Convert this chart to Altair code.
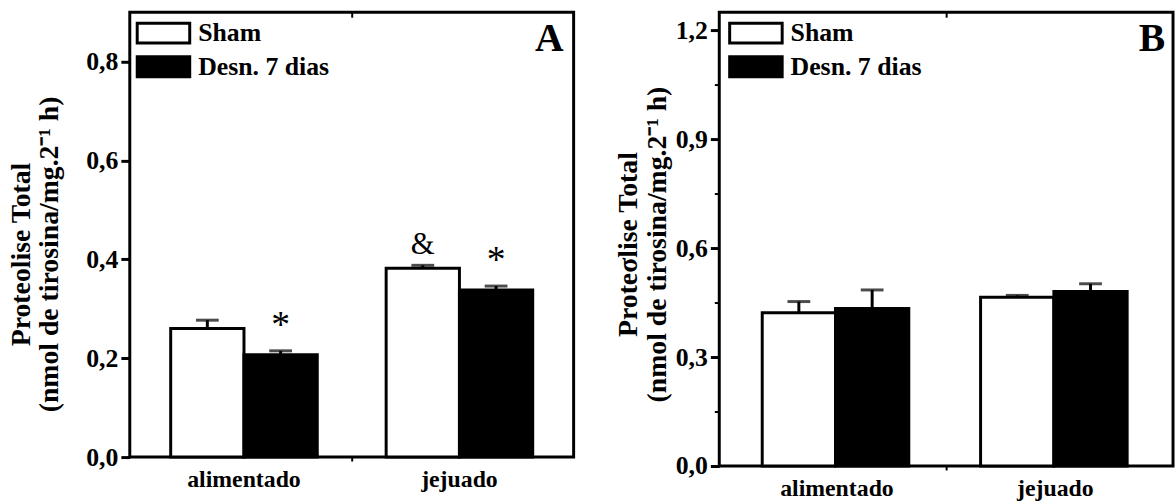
import altair as alt
import pandas as pd

# Categories and series
grupos = ["alimentado", "jejuado"]
series = ["Sham", "Desn. 7 dias"]

# Panel A: means, standard errors and significance marks
a_sham_media = [0.260, 0.382]
a_sham_epm = [0.017, 0.006]
a_desn_media = [0.207, 0.338]
a_desn_epm = [0.008, 0.008]
a_sham_sinal = ["", "&"]
a_desn_sinal = ["*", "*"]

# Panel B: means and standard errors
b_sham_media = [0.422, 0.465]
b_sham_epm = [0.031, 0.005]
b_desn_media = [0.434, 0.481]
b_desn_epm = [0.051, 0.021]
b_sham_sinal = ["", ""]
b_desn_sinal = ["", ""]

# Axis ticks
a_ticks = [0.0, 0.2, 0.4, 0.6, 0.8]
b_ticks = [0.0, 0.3, 0.6, 0.9, 1.2]
b_ticks_menores = [0.15, 0.45, 0.75, 1.05]

FONTE = "Liberation Serif"
UNIDADE = "(nmol de tirosina/mg.2\u207b\u00b9 h)"


def tabela(sham_m, sham_e, desn_m, desn_e, sham_s, desn_s):
    linhas = []
    for i, g in enumerate(grupos):
        linhas.append({"grupo": g, "serie": series[0], "media": sham_m[i],
                       "epm": sham_e[i], "sinal": sham_s[i]})
        linhas.append({"grupo": g, "serie": series[1], "media": desn_m[i],
                       "epm": desn_e[i], "sinal": desn_s[i]})
    df = pd.DataFrame(linhas)
    df["topo"] = df["media"] + df["epm"]
    return df


def painel(df, letra, titulo1, dominio, ticks, menores, largura, altura,
           pad_x, pad_off, title_y, title_pad, letra_margem, leg_x):
    base = alt.Chart(df)
    rotulo = "replace(format(datum.value, '.1f'), '.', ',')"

    def x_enc(axis):
        return alt.X("grupo:N", sort=grupos, axis=axis,
                     scale=alt.Scale(paddingInner=0, paddingOuter=pad_x))

    xo = alt.XOffset("serie:N", sort=series,
                     scale=alt.Scale(paddingInner=0, paddingOuter=pad_off))
    y_scale = alt.Scale(domain=dominio, nice=False, zero=True)

    eixo_y = alt.Axis(
        values=ticks, labelExpr=rotulo, title=[titulo1, UNIDADE],
        domain=False, grid=False, tickSize=9, tickWidth=3, tickColor="black",
        labelFont=FONTE, labelFontSize=26, labelFontWeight="bold",
        labelColor="black", labelPadding=3,
        titleFont=FONTE, titleFontSize=28, titleFontWeight="bold",
        titleColor="black", titleLineHeight=29, titlePadding=title_pad,
        titleY=title_y,
    )
    eixo_x = alt.Axis(
        title=None, ticks=False, domain=False, labelAngle=0,
        labelFont=FONTE, labelFontSize=24, labelFontWeight="bold",
        labelColor="black", labelPadding=11,
    )
    eixo_x_meio = alt.Axis(
        title=None, values=["jejuado"], bandPosition=0, labels=False,
        domain=False, ticks=True, tickSize=4, tickWidth=2, tickColor="black",
        orient="bottom",
    )
    eixo_x_topo = alt.Axis(
        title=None, values=["jejuado"], bandPosition=0, labels=False,
        domain=False, ticks=True, tickSize=5, tickWidth=2, tickColor="black",
        orient="top", offset=-5,
    )
    if menores:
        eixo_y_menor = alt.Axis(
            values=menores, labels=False, domain=False, grid=False,
            tickSize=5, tickWidth=2, tickColor="black", title=None,
            orient="left",
        )
    else:
        eixo_y_menor = None

    # Wide rectangular swatches: the path spans 5.3 x 2 units of a
    # sqrt(symbolSize)/2 grid, i.e. about 53 x 20 px
    legenda = alt.Legend(
        orient="none", legendX=leg_x, legendY=8, title=None,
        symbolType="M-2.65,-1H2.65V1H-2.65Z", symbolSize=400,
        symbolStrokeWidth=3, symbolStrokeColor="black",
        labelFont=FONTE, labelFontSize=26, labelFontWeight="bold",
        labelColor="black", labelOffset=22, labelLimit=400,
        rowPadding=2, padding=0,
    )

    barras = base.mark_bar(stroke="black", strokeWidth=3).encode(
        x=x_enc(eixo_x),
        xOffset=xo,
        y=alt.Y("media:Q", scale=y_scale, axis=eixo_y),
        fill=alt.Fill("serie:N", sort=series, legend=legenda,
                      scale=alt.Scale(domain=series, range=["white", "black"])),
    )
    erro = base.mark_rule(color="black", strokeWidth=3).encode(
        x=x_enc(eixo_x_meio),
        xOffset=xo,
        y=alt.Y("media:Q", scale=y_scale, axis=None),
        y2="topo:Q",
    )
    cap = base.mark_tick(color="black", size=23, thickness=3).encode(
        x=x_enc(eixo_x_topo),
        xOffset=xo,
        y=alt.Y("topo:Q", scale=y_scale, axis=eixo_y_menor),
    )
    # Significance marks above the error bars
    asteriscos = base.transform_filter("datum.sinal == '*'").mark_text(
        font=FONTE, fontSize=38, color="black", baseline="alphabetic",
        align="center", dy=-14,
    ).encode(
        x=x_enc(None),
        xOffset=xo,
        y=alt.Y("topo:Q", scale=y_scale, axis=None),
        text="sinal:N",
    )
    outros = base.transform_filter("datum.sinal == '&'").mark_text(
        font=FONTE, fontSize=31, color="black", baseline="alphabetic",
        align="center", dy=-11,
    ).encode(
        x=x_enc(None),
        xOffset=xo,
        y=alt.Y("topo:Q", scale=y_scale, axis=None),
        text="sinal:N",
    )
    # Panel letter in the upper right corner of the plot area
    rotulo_painel = alt.Chart(pd.DataFrame({"letra": [letra]})).mark_text(
        font=FONTE, fontSize=40, fontWeight="bold", color="black",
        align="right", baseline="alphabetic",
    ).encode(
        x=alt.value(largura - letra_margem),
        y=alt.value(39),
        text="letra:N",
    )
    return alt.layer(
        barras, erro, cap, asteriscos, outros, rotulo_painel
    ).resolve_axis(
        x="independent", y="independent"
    ).properties(width=largura, height=altura)


dados_a = tabela(a_sham_media, a_sham_epm, a_desn_media, a_desn_epm,
                 a_sham_sinal, a_desn_sinal)
dados_b = tabela(b_sham_media, b_sham_epm, b_desn_media, b_desn_epm,
                 b_sham_sinal, b_desn_sinal)

painel_a = painel(dados_a, "A", "Proteolise Total", [0, 0.9], a_ticks, None,
                  448, 449, 0.03, 0.47, 244, 22, 10, 21)
painel_b = painel(dados_b, "B", "Prote\u03c3lise Total", [0, 1.25], b_ticks,
                  b_ticks_menores, 458, 458, 0.039, 0.488, 234, 4, 8, 24)

chart = alt.hconcat(painel_a, painel_b, spacing=38).resolve_scale(
    fill="independent"
).resolve_legend(
    fill="independent"
).configure_view(
    stroke="black", strokeWidth=3
).properties(
    background="white",
    padding={"left": 6, "top": 7, "right": 0, "bottom": 0},
)

chart.save("out.html", embed_options={"renderer": "svg", "actions": False})
